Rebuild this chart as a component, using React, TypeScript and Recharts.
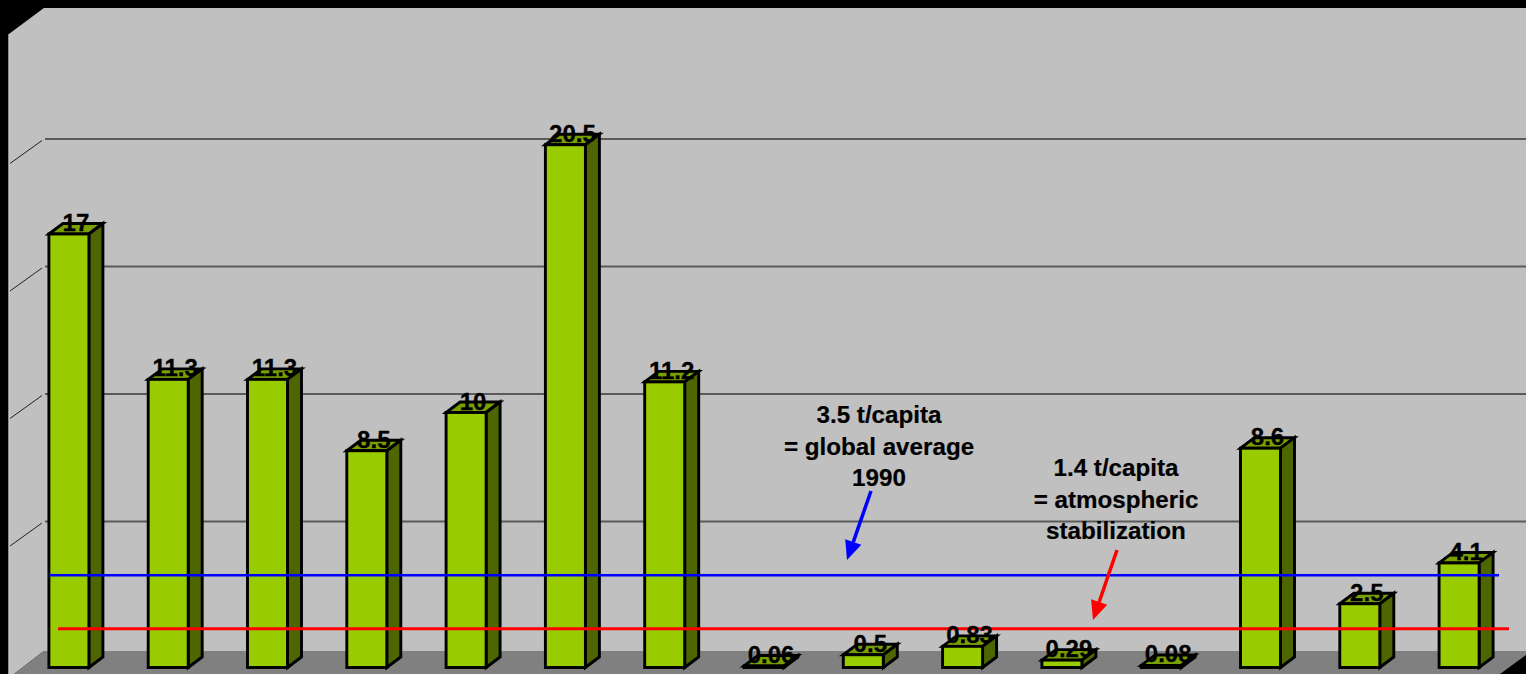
import { Bar, BarChart, CartesianGrid, ReferenceArea, ReferenceLine, XAxis, YAxis } from "recharts"

const categories = ["A", "B", "C", "D", "E", "F", "G", "H", "I", "J", "K", "L", "M", "N", "O"]
const emissions = [17, 11.3, 11.3, 8.5, 10, 20.5, 11.2, 0.06, 0.5, 0.83, 0.29, 0.08, 8.6, 2.5, 4.1]
const gridValues = [5, 10, 15, 20]
const globalAverage = 3.5
const stabilization = 1.4
const averageNote = ["3.5 t/capita", "= global average", "1990"]
const stabilizationNote = ["1.4 t/capita", "= atmospheric", "stabilization"]

const chartData = categories.map((name, i) => ({ name, value: emissions[i] }))

const FONT = '"Liberation Sans", Arial, sans-serif'
// projection of the bar depth and of the chart's back wall
const BAR_DX = 14
const BAR_DY = -10.5
const WALL_DX = 35
const WALL_DY = -18.5

function Box({ x, y, width, height }: any) {
  const r = x + width
  const b = y + height
  return (
    <g stroke="#000" strokeWidth={2.9} strokeLinejoin="miter">
      <polygon points={`${x},${y} ${x + BAR_DX},${y + BAR_DY} ${r + BAR_DX},${y + BAR_DY} ${r},${y}`} fill="#7a9f00" />
      <polygon points={`${r},${y} ${r + BAR_DX},${y + BAR_DY} ${r + BAR_DX},${b + BAR_DY} ${r},${b}`} fill="#4d6600" />
      <rect x={x} y={y} width={width} height={height} fill="#99cc00" />
    </g>
  )
}

function BarValue({ x, y, width, value }: any) {
  return (
    <text
      x={x + width / 2 + BAR_DX / 2}
      y={y - 3}
      textAnchor="middle"
      fontFamily={FONT}
      fontWeight="bold"
      fontSize={24}
      fill="#000"
      stroke="#000"
      strokeWidth={0.3}
    >
      {value}
    </text>
  )
}

// side wall, back wall and floor of the 3D box
function Walls({ x, y, width, height }: any) {
  const left = x - 10
  const back = left + WALL_DX
  const floorBack = y + height + WALL_DY + 2
  const top = y - 22
  return (
    <g>
      <rect x={0} y={0} width={1526} height={674} fill="#000" />
      <polygon points={`${left},${top + 26} ${back},${top} 1526,${top} 1526,${floorBack} ${back},${floorBack} 14,674 ${left},674`} fill="#c0c0c0" />
      <polygon points={`${back},${floorBack} 1526,${floorBack} 1526,655 1500,674 14,674`} fill="#808080" />
      <line x1={left} y1={top + 26} x2={left} y2={674} stroke="#d8d8d8" strokeWidth={1} />
    </g>
  )
}

function GridLine({ y1 }: any) {
  const y = y1 + WALL_DY
  return (
    <g>
      <line x1={45} y1={y} x2={1526} y2={y} stroke="#5a5a5a" strokeWidth={1.8} />
      <line x1={10} y1={y + 24.5} x2={42} y2={y + 1.5} stroke="#222" strokeWidth={1} />
    </g>
  )
}

function Note({ lines, cx, cy, color, from, to }: any) {
  const dx = to[0] - from[0]
  const dy = to[1] - from[1]
  const len = Math.hypot(dx, dy)
  const ux = dx / len
  const uy = dy / len
  const baseX = to[0] - ux * 19
  const baseY = to[1] - uy * 19
  return (
    <g>
      {lines.map((t: string, i: number) => (
        <text
          key={t}
          x={cx}
          y={cy + i * 31.5}
          textAnchor="middle"
          fontFamily={FONT}
          fontWeight="bold"
          fontSize={24.2}
          fill="#000"
          stroke="#000"
          strokeWidth={0.2}
        >
          {t}
        </text>
      ))}
      <line x1={from[0]} y1={from[1]} x2={baseX} y2={baseY} stroke={color} strokeWidth={3.5} />
      <polygon
        points={`${to[0]},${to[1]} ${baseX - uy * 8.5},${baseY + ux * 8.5} ${baseX + uy * 8.5},${baseY - ux * 8.5}`}
        fill={color}
      />
    </g>
  )
}

function LevelLine({ y1, x1From, x2To, color, weight, note }: any) {
  // the two level lines sit slightly behind the bars' front plane
  const y = y1 - 3
  return (
    <g>
      <line x1={x1From} y1={y} x2={x2To} y2={y} stroke={color} strokeWidth={weight} />
      {note}
    </g>
  )
}

export default function App() {
  return (
    <div style={{ position: "fixed", left: 0, top: 0, width: 1526, height: 674, background: "#000", overflow: "hidden" }}>
      <BarChart width={1526} height={674} data={chartData} margin={{ top: 30, right: 17.6, bottom: 6.5, left: 18.9 }}>
        <XAxis dataKey="name" hide />
        <YAxis hide domain={[0, 25]} />
        <ReferenceArea y1={0} y2={25} ifOverflow="visible" shape={<Walls />} zIndex={-200} />
        <CartesianGrid vertical={false} horizontal={(p: any) => <GridLine key={p.y1} {...p} />} horizontalValues={gridValues} />
        <Bar dataKey="value" barSize={40} shape={<Box />} label={<BarValue />} isAnimationActive={false} />
        <ReferenceLine
          y={globalAverage}
          ifOverflow="visible"
          shape={(p: any) => (
            <LevelLine
              {...p}
              x1From={49}
              x2To={1499}
              color="#0000ff"
              weight={2.5}
              note={<Note lines={averageNote} cx={879} cy={423} color="#0000ff" from={[871, 491]} to={[847, 560]} />}
            />
          )}
        />
        <ReferenceLine
          y={stabilization}
          ifOverflow="visible"
          shape={(p: any) => (
            <LevelLine
              {...p}
              x1From={58}
              x2To={1509}
              color="#ff0000"
              weight={3}
              note={<Note lines={stabilizationNote} cx={1116} cy={476} color="#ff0000" from={[1117, 550]} to={[1093, 620]} />}
            />
          )}
        />
      </BarChart>
    </div>
  )
}
